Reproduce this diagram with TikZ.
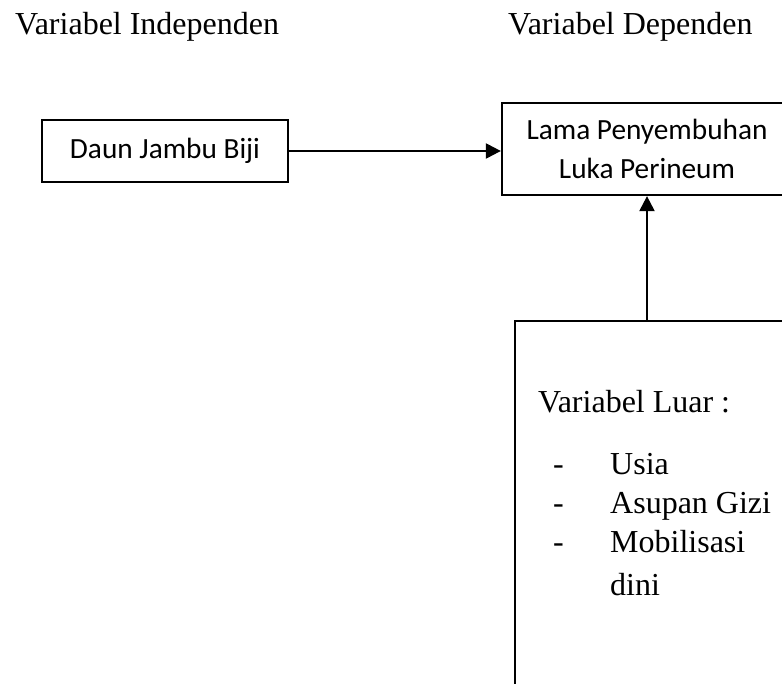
\documentclass[tikz,border=0pt]{standalone}
\usepackage{fontspec}
\setmainfont{Liberation Serif}
\newfontfamily\calibri{Carlito}
\usetikzlibrary{arrows.meta}
\begin{document}
\begin{tikzpicture}[x=1pt,y=-1pt,
  box/.style={draw,line width=2.3pt,inner sep=0pt,align=center},
  conn/.style={line width=2.3pt,-{Triangle[length=15pt,width=15pt]}},
  serif/.style={inner sep=0pt,anchor=base west,font=\fontsize{32}{36}\selectfont},
  cal/.style={font=\calibri\fontsize{29.3}{38.3}\selectfont}]
\useasboundingbox (0,0) rectangle (782,684);
\clip (0,0) rectangle (782,684);
\node[serif] (hi) at (15,35) {Variabel Independen};
\node[serif] (hd) at (508,35) {Variabel Dependen};
\node[box,cal,minimum width=246pt,minimum height=62pt] (daun) at (165,151) {Daun Jambu Biji};
\node[box,cal,minimum width=290pt,minimum height=92pt] (lama) at (647,149) {Lama Penyembuhan\\Luka Perineum};
\node[box,minimum width=300pt,minimum height=400pt,anchor=north west] (luar) at (514,320) {};
\draw[conn] (daun.east) -- (daun.east -| lama.west);
\draw[conn] (lama.south |- luar.north) -- (lama.south);
\node[serif] (vl) at (538,413) {Variabel Luar :};
\node[serif] (d1) at (553,475) {-};
\node[serif] (t1) at (610,475) {Usia};
\node[serif] (d2) at (553,513) {-};
\node[serif] (t2) at (610,513) {Asupan Gizi};
\node[serif] (d3) at (553,552) {-};
\node[serif] (t3) at (610,552) {Mobilisasi};
\node[serif] (t4) at (610,595) {dini};
\end{tikzpicture}
\end{document}
